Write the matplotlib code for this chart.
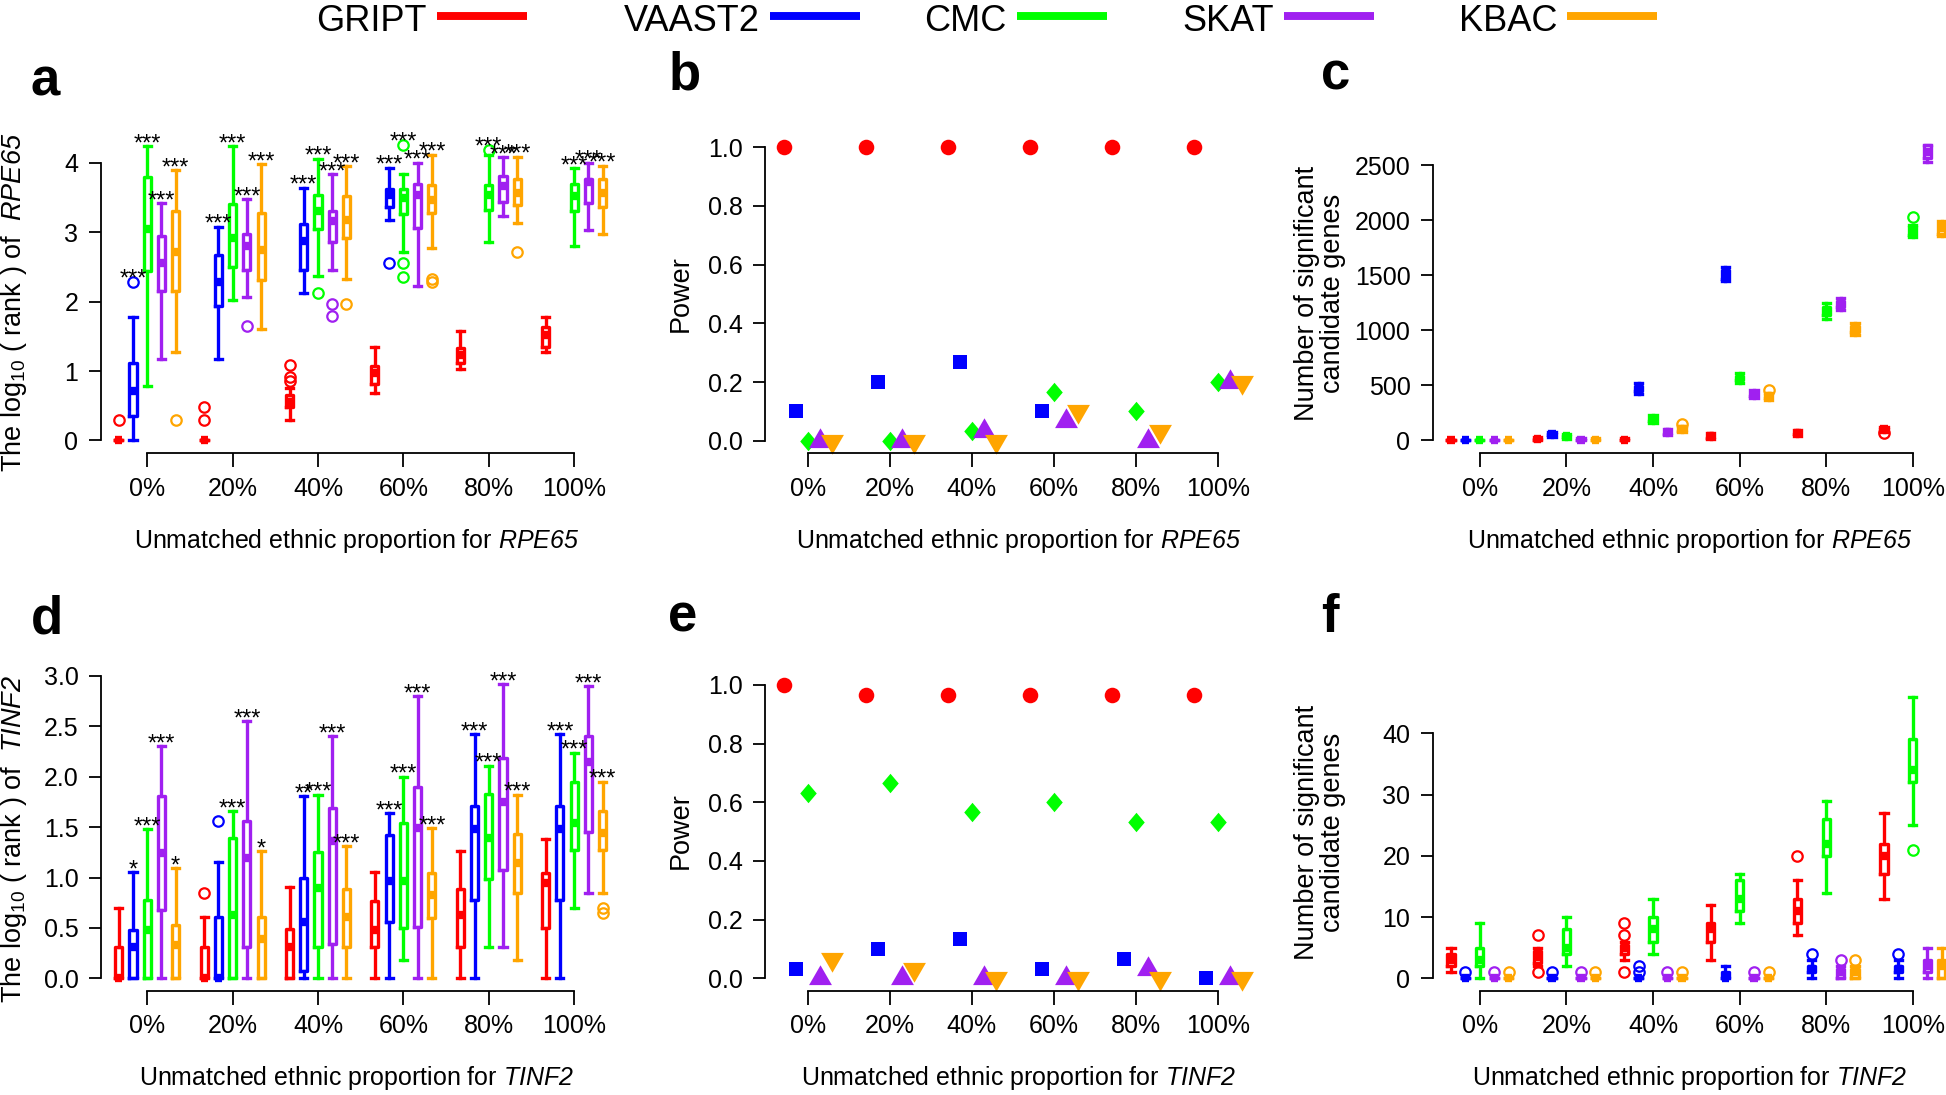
"""Unmatched ethnic proportion: rank, power and candidate-gene counts for RPE65 / TINF2."""
import numpy as np
import matplotlib
matplotlib.use("Agg")
import matplotlib.pyplot as plt
from matplotlib.lines import Line2D

plt.rcParams["font.family"] = ["Liberation Sans", "DejaVu Sans"]
plt.rcParams["mathtext.fontset"] = "custom"
plt.rcParams["mathtext.rm"] = "Liberation Sans"
plt.rcParams["mathtext.it"] = "Liberation Sans:italic"
# \mathsf is used for gene names so that the digits come out italic too
plt.rcParams["mathtext.sf"] = "Liberation Sans:italic"

W, H = 1946, 1095

methods = ["GRIPT", "VAAST2", "CMC", "SKAT", "KBAC"]
colors = ["#FF0000", "#0000FF", "#00FF00", "#A020F0", "#FFA500"]
groups = ["0%", "20%", "40%", "60%", "80%", "100%"]
group_pct = [0, 20, 40, 60, 80, 100]

# ---- panel a: log10(rank) of RPE65, box stats (whislo, q1, med, q3, whishi)
a_gript = [(0, 0, 0, 0, 0), (0, 0, 0, 0, 0), (0.30, 0.48, 0.55, 0.65, 0.76),
           (0.68, 0.81, 0.97, 1.07, 1.34), (1.03, 1.12, 1.23, 1.33, 1.57),
           (1.27, 1.34, 1.52, 1.64, 1.78)]
a_gript_fl = [[0.30], [0.30, 0.48], [0.85, 0.92, 1.09], [], [], []]
a_vaast = [(0, 0.35, 0.71, 1.11, 1.78), (1.17, 1.93, 2.28, 2.67, 3.08),
           (2.13, 2.46, 2.87, 3.12, 3.64), (3.17, 3.36, 3.54, 3.62, 3.93), None, None]
a_vaast_fl = [[2.29], [], [], [2.56], [], []]
a_cmc = [(0.78, 2.44, 3.05, 3.80, 4.24), (2.03, 2.50, 2.92, 3.40, 4.24),
         (2.37, 3.05, 3.31, 3.54, 4.06), (2.72, 3.26, 3.49, 3.63, 3.84),
         (2.86, 3.32, 3.54, 3.68, 4.12), (2.80, 3.31, 3.52, 3.70, 3.92)]
a_cmc_fl = [[], [], [2.12], [4.26, 2.55, 2.36], [4.19], []]
a_skat = [(1.17, 2.15, 2.56, 2.94, 3.42), (2.06, 2.46, 2.80, 2.97, 3.48),
          (2.46, 2.86, 3.16, 3.31, 3.84), (2.23, 3.06, 3.54, 3.70, 4.00),
          (3.23, 3.44, 3.67, 3.81, 4.08), (3.03, 3.42, 3.72, 3.77, 4.00)]
a_skat_fl = [[], [1.65], [1.96, 1.79], [], [], []]
a_kbac = [(1.28, 2.15, 2.72, 3.31, 3.89), (1.60, 2.31, 2.74, 3.28, 3.98),
          (2.33, 2.92, 3.18, 3.52, 3.95), (2.78, 3.28, 3.46, 3.68, 4.12),
          (3.13, 3.39, 3.57, 3.76, 4.09), (2.97, 3.37, 3.57, 3.76, 3.96)]
a_kbac_fl = [[0.30], [], [1.96], [2.33, 2.28], [2.71], []]
a_stars = [[""] * 6,
           ["***", "***", "***", "***", "", ""],
           ["***"] * 6, ["***"] * 6, ["***"] * 6]

# ---- panel b: power for RPE65
b_power = [[1.0, 1.0, 1.0, 1.0, 1.0, 1.0],
           [0.10, 0.20, 0.267, 0.10, np.nan, np.nan],
           [0.0, 0.0, 0.033, 0.167, 0.10, 0.20],
           [0.0, 0.0, 0.033, 0.067, 0.0, 0.20],
           [0.0, 0.0, 0.0, 0.10, 0.033, 0.20]]

# ---- panel c: number of significant candidate genes, RPE65
c_gript = [(0, 0, 0, 0, 0), (0, 5, 10, 18, 30), (0, 2, 5, 12, 25), (10, 25, 38, 50, 70),
           (40, 55, 68, 80, 95), (75, 88, 100, 110, 125)]
c_gript_fl = [[], [], [], [], [], [65]]
c_vaast = [(0, 0, 0, 0, 0), (35, 48, 58, 68, 80), (420, 445, 470, 495, 520),
           (1450, 1470, 1500, 1545, 1580), None, None]
c_vaast_fl = [[], [], [], [], [], []]
c_cmc = [(0, 0, 0, 0, 0), (15, 28, 38, 48, 60), (160, 180, 198, 215, 235),
         (525, 548, 568, 588, 610), (1100, 1140, 1185, 1215, 1250),
         (1850, 1870, 1910, 1950, 1960)]
c_cmc_fl = [[], [], [], [], [], [2030]]
c_skat = [(0, 0, 0, 0, 0), (0, 2, 5, 12, 22), (50, 62, 75, 88, 100), (385, 405, 422, 440, 458),
          (1190, 1215, 1243, 1270, 1295), (2528, 2565, 2620, 2685, 2690)]
c_skat_fl = [[], [], [], [], [], []]
c_kbac = [(0, 0, 0, 0, 0), (0, 0, 2, 8, 18), (75, 90, 107, 120, 135), (365, 385, 406, 420, 435),
          (960, 990, 1016, 1040, 1065), (1860, 1880, 1930, 1980, 1995)]
c_kbac_fl = [[], [], [150], [455], [], []]

# ---- panel d: log10(rank) of TINF2
d_gript = [(0, 0, 0, 0.31, 0.70), (0, 0, 0, 0.31, 0.61), (0, 0, 0.31, 0.49, 0.91),
           (0, 0.31, 0.48, 0.77, 1.05), (0, 0.31, 0.63, 0.89, 1.26), (0, 0.50, 0.95, 1.04, 1.38)]
d_gript_fl = [[], [0.85], [], [], [], []]
d_vaast = [(0, 0, 0.31, 0.48, 1.05), (0, 0, 0, 0.61, 1.15), (0, 0.07, 0.56, 1.00, 1.81),
           (0, 0.56, 0.97, 1.42, 1.64), (0, 0.78, 1.48, 1.71, 2.42), (0, 0.78, 1.48, 1.71, 2.42)]
d_vaast_fl = [[], [1.56], [], [], [], []]
d_cmc = [(0, 0, 0.48, 0.78, 1.48), (0, 0, 0.63, 1.39, 1.66), (0, 0.31, 0.90, 1.25, 1.82),
         (0.18, 0.50, 0.97, 1.54, 2.00), (0.31, 0.99, 1.39, 1.83, 2.11), (0.70, 1.27, 1.54, 1.95, 2.24)]
d_cmc_fl = [[], [], [], [], [], []]
d_skat = [(0, 0.68, 1.24, 1.81, 2.30), (0, 0.31, 1.19, 1.56, 2.55), (0, 0.34, 1.36, 1.69, 2.40),
          (0, 0.51, 1.49, 1.90, 2.80), (0.31, 1.07, 1.75, 2.19, 2.92), (0.85, 1.45, 2.15, 2.40, 2.90)]
d_skat_fl = [[], [], [], [], [], []]
d_kbac = [(0, 0, 0.33, 0.53, 1.09), (0, 0, 0.39, 0.61, 1.26), (0, 0.31, 0.61, 0.89, 1.31),
          (0, 0.60, 0.83, 1.04, 1.49), (0.18, 0.85, 1.14, 1.43, 1.82), (0.85, 1.27, 1.44, 1.66, 1.95)]
d_kbac_fl = [[], [], [], [], [], [0.70, 0.65]]
d_stars = [[""] * 6,
           ["*", "", "**", "***", "***", "***"],
           ["***"] * 6, ["***"] * 6,
           ["*", "*", "***", "***", "***", "***"]]

# ---- panel e: power for TINF2
e_power = [[1.0, 0.967, 0.967, 0.967, 0.967, 0.967],
           [0.033, 0.10, 0.133, 0.033, 0.067, 0.0],
           [0.633, 0.667, 0.567, 0.60, 0.533, 0.533],
           [0.0, 0.0, 0.0, 0.0, 0.033, 0.0],
           [0.067, 0.033, 0.0, 0.0, 0.0, 0.0]]

# ---- panel f: number of significant candidate genes, TINF2
f_gript = [(1, 2, 3, 4, 5), (2, 2.5, 3.5, 4.5, 5), (3, 4, 5, 5.5, 6), (3, 6, 8, 9, 12),
           (7, 9, 11, 13, 16), (13, 17, 20, 22, 27)]
f_gript_fl = [[], [1, 7], [1, 7, 9], [], [20], []]
f_vaast = [(0, 0, 0, 0, 0), (0, 0, 0, 0, 0), (0, 0, 0, 0, 0), (0, 0, 0, 1, 2),
           (0, 1, 1.5, 2, 3), (0, 1, 1.5, 2, 3)]
f_vaast_fl = [[1], [1], [1, 2], [], [4], [4]]
f_cmc = [(0, 2, 3, 5, 9), (2, 4, 5, 8, 10), (4, 6, 8, 10, 13), (9, 11, 13, 16, 17),
         (14, 20, 22, 26, 29), (25, 32, 34, 39, 46)]
f_cmc_fl = [[], [], [], [], [], [21]]
f_skat = [(0, 0, 0, 0, 0), (0, 0, 0, 0, 0), (0, 0, 0, 0, 0), (0, 0, 0, 0, 0),
          (0, 0, 1, 1.5, 2), (0, 1, 2, 3, 5)]
f_skat_fl = [[1], [1], [1], [1], [3], []]
f_kbac = [(0, 0, 0, 0, 0), (0, 0, 0, 0, 0), (0, 0, 0, 0, 0), (0, 0, 0, 0, 0),
          (0, 0, 1, 1.5, 2), (0, 0, 2, 3, 5)]
f_kbac_fl = [[1], [1], [1], [1], [3], []]


def add_axes_px(fig, left, right, top, bottom):
    return fig.add_axes([left / W, 1 - bottom / H, (right - left) / W, (bottom - top) / H])


def style_axes(ax, xb, yb):
    for s in ("top", "right"):
        ax.spines[s].set_visible(False)
    for s in ("left", "bottom"):
        ax.spines[s].set_linewidth(1.3)
    ax.spines["left"].set_bounds(*yb)
    ax.spines["bottom"].set_bounds(*xb)
    ax.tick_params(axis="x", length=10, width=1.3, pad=7, labelsize=18)
    ax.tick_params(axis="y", length=8.5, width=1.3, pad=7.5, labelsize=18)


def draw_boxes(ax, stats, fliers, stars=None):
    for j, c in enumerate(colors):
        bxs, pos, tops, labs = [], [], [], []
        for k in range(6):
            if stats[j][k] is None:
                continue
            lo, q1, med, q3, hi = stats[j][k]
            fl = fliers[j][k]
            bxs.append(dict(whislo=lo, q1=q1, med=med, q3=q3, whishi=hi, fliers=fl))
            pos.append(k * 6 + 1 + j)
            tops.append(max([hi] + fl))
            labs.append(stars[j][k] if stars else "")
        ax.bxp(bxs, positions=pos, widths=0.5, capwidths=0.5, manage_ticks=False,
               boxprops=dict(color=c, lw=2.4),
               whiskerprops=dict(color=c, lw=2.4, linestyle="-"),
               capprops=dict(color=c, lw=2.4),
               medianprops=dict(color=c, lw=6, solid_capstyle="butt"),
               flierprops=dict(marker="o", mfc="none", mec=c, ms=7.5, mew=1.6))
        for p, t, lab in zip(pos, tops, labs):
            if lab:
                ax.annotate(lab, (p, t), xytext=(0, -3), textcoords="offset points",
                            ha="center", va="baseline", fontsize=17, annotation_clip=False)
    ax.set_xticks([k * 6 + 3 for k in range(6)])
    ax.set_xticklabels(groups)
    ax.set_xlim(-0.27, 36.27)


diamond = [(0, 1), (0.85, 0), (0, -1), (-0.85, 0)]
tri_up = [(0, 1.555), (1.347, -0.778), (-1.347, -0.778)]
tri_dn = [(0, -1.555), (1.347, 0.778), (-1.347, 0.778)]
pt_markers = ["o", "s", diamond, tri_up, tri_dn]
pt_sizes = [11.2, 9.7, 14, 19, 19]


def draw_points(ax, power):
    for j, c in enumerate(colors):
        xs = [g + (j - 2) * 2.9 for g in group_pct]
        ax.plot(xs, power[j], linestyle="none", marker=pt_markers[j], ms=pt_sizes[j],
                mfc=c, mec=c, mew=0, clip_on=False)
    ax.set_xticks(group_pct)
    ax.set_xticklabels(groups)
    ax.set_xlim(-10.4, 110.3)
    ax.set_yticks(np.arange(0, 1.01, 0.2))
    ax.set_yticklabels([f"{v:.1f}" for v in np.arange(0, 1.01, 0.2)])


fig = plt.figure(figsize=(W / 100, H / 100), dpi=100)

# top row
ax_a = add_axes_px(fig, 100.7, 620.7, 133.7, 452.9)
draw_boxes(ax_a, [a_gript, a_vaast, a_cmc, a_skat, a_kbac],
           [a_gript_fl, a_vaast_fl, a_cmc_fl, a_skat_fl, a_kbac_fl], a_stars)
ax_a.set_ylim(-0.18, 4.42)
ax_a.set_yticks([0, 1, 2, 3, 4])
style_axes(ax_a, (3, 33), (0, 4))

ax_b = add_axes_px(fig, 765.3, 1260, 135.1, 452.9)
draw_points(ax_b, b_power)
ax_b.set_ylim(-0.041, 1.041)
style_axes(ax_b, (0, 100), (0, 1))

ax_c = add_axes_px(fig, 1432.7, 1960, 136.8, 452.9)
draw_boxes(ax_c, [c_gript, c_vaast, c_cmc, c_skat, c_kbac],
           [c_gript_fl, c_vaast_fl, c_cmc_fl, c_skat_fl, c_kbac_fl])
ax_c.set_ylim(-113.6, 2760)
ax_c.set_yticks([0, 500, 1000, 1500, 2000, 2500])
style_axes(ax_c, (3, 33), (0, 2500))

# bottom row
ax_d = add_axes_px(fig, 100.7, 620.7, 671.9, 990.6)
draw_boxes(ax_d, [d_gript, d_vaast, d_cmc, d_skat, d_kbac],
           [d_gript_fl, d_vaast_fl, d_cmc_fl, d_skat_fl, d_kbac_fl], d_stars)
ax_d.set_ylim(-0.122, 3.04)
ax_d.set_yticks(np.arange(0, 3.01, 0.5))
ax_d.set_yticklabels([f"{v:.1f}" for v in np.arange(0, 3.01, 0.5)])
style_axes(ax_d, (3, 33), (0, 3))

ax_e = add_axes_px(fig, 765.3, 1260, 672.6, 990.6)
draw_points(ax_e, e_power)
ax_e.set_ylim(-0.042, 1.042)
style_axes(ax_e, (0, 100), (0, 1))

ax_f = add_axes_px(fig, 1432.7, 1960, 684.3, 990.6)
draw_boxes(ax_f, [f_gript, f_vaast, f_cmc, f_skat, f_kbac],
           [f_gript_fl, f_vaast_fl, f_cmc_fl, f_skat_fl, f_kbac_fl])
ax_f.set_ylim(-2, 48)
ax_f.set_yticks([0, 10, 20, 30, 40])
style_axes(ax_f, (3, 33), (0, 40))


def ftext(x, y, s, **kw):
    fig.text(x / W, 1 - y / H, s, **kw)


# axis labels
ylab_rank = "The log$_{10}$ ( rank ) of  $\\mathsf{%s}$"
xlab = "Unmatched ethnic proportion for $\\mathsf{%s}$"
ftext(14, 302, ylab_rank % "RPE65", rotation=90, ha="center", va="center", fontsize=19.5)
ftext(14, 839, ylab_rank % "TINF2", rotation=90, ha="center", va="center", fontsize=19.5)
ftext(681, 294, "Power", rotation=90, ha="center", va="center", fontsize=19.5)
ftext(681, 831, "Power", rotation=90, ha="center", va="center", fontsize=19.5)
for yc in (293, 832):
    ftext(1320, yc, "Number of significant\ncandidate genes", rotation=90, ha="center",
          va="center", fontsize=19.5, linespacing=1.05, multialignment="center")
for xc, gene in ((357, "RPE65"), (1019, "RPE65"), (1690, "RPE65")):
    ftext(xc, 548, xlab % gene, ha="center", va="baseline", fontsize=18)
for xc, gene in ((357, "TINF2"), (1019, "TINF2"), (1690, "TINF2")):
    ftext(xc, 1085, xlab % gene, ha="center", va="baseline", fontsize=18)

# panel letters
for lab, x, y in (("a", 30, 96), ("b", 669, 90), ("c", 1321, 90),
                  ("d", 31, 633), ("e", 668, 632), ("f", 1321, 632)):
    ftext(x, y, lab, ha="left", va="baseline", fontsize=38, fontweight="bold")

# legend across the top
leg_text_end = [427, 760, 1007, 1274, 1557]
for name, c, xe in zip(methods, colors, leg_text_end):
    ftext(xe, 31, name, ha="right", va="baseline", fontsize=26)
    fig.add_artist(Line2D([(xe + 10) / W, (xe + 100) / W], [1 - 16 / H, 1 - 16 / H],
                          transform=fig.transFigure, color=c, lw=5.7, solid_capstyle="butt"))

fig.savefig("out.png", dpi=100)
